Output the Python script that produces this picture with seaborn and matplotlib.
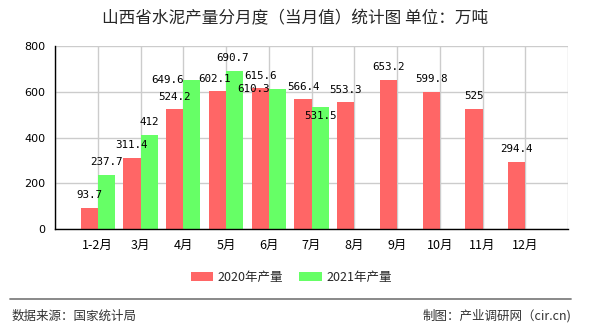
import matplotlib
matplotlib.use("Agg")
import matplotlib.pyplot as plt
from matplotlib.lines import Line2D
import pandas as pd
import seaborn as sns

# Monthly cement output of Shanxi province (10k tonnes)
months = ["1-2月", "3月", "4月", "5月", "6月", "7月", "8月", "9月", "10月", "11月", "12月"]
output_2020 = [93.7, 311.4, 524.2, 602.1, 615.6, 566.4, 553.3, 653.2, 599.8, 525, 294.4]
output_2021 = [237.7, 412, 649.6, 690.7, 610.3, 531.5]
series_names = ["2020年产量", "2021年产量"]
y_ticks = [0, 200, 400, 600, 800]

title = "山西省水泥产量分月度（当月值）统计图 单位：万吨"
source_text = "数据来源：国家统计局"
credit_text = "制图：产业调研网（cir.cn)"

sns.set_style("white")
plt.rcParams["font.family"] = ["Noto Sans CJK SC", "DejaVu Sans"]

rows = [(m, series_names[0], v) for m, v in zip(months, output_2020)]
rows += [(m, series_names[1], v) for m, v in zip(months, output_2021)]
df = pd.DataFrame(rows, columns=["month", "series", "value"])

W, H = 590, 330
fig = plt.figure(figsize=(W / 100, H / 100), dpi=100)
ax = fig.add_axes([55 / W, 1 - 229 / H, (568 - 55) / W, (229 - 46) / H])

palette = {series_names[0]: "#ff6666", series_names[1]: "#66ff66"}
sns.barplot(data=df, x="month", y="value", hue="series", order=months,
            hue_order=series_names, palette=palette, saturation=1,
            width=0.8, dodge=True, ax=ax, errorbar=None, linewidth=0,
            edgecolor="none")

handles, labels = ax.get_legend_handles_labels()
if ax.legend_ is not None:
    ax.legend_.remove()

ax.set_xlim(-1, 11)
ax.set_ylim(0, 800)
ax.set_xticks(range(-1, 12))
ax.set_xticklabels([""] + months + [""], fontsize=9)
ax.set_yticks(y_ticks)
ax.set_yticklabels([str(t) for t in y_ticks], fontsize=8, family="DejaVu Sans")
ax.set_xlabel("")
ax.set_ylabel("")
ax.set_axisbelow(True)
ax.grid(True, color="#cccccc", linewidth=1)
for side in ("top", "right"):
    ax.spines[side].set_visible(False)
for side in ("left", "bottom"):
    ax.spines[side].set_color("black")
    ax.spines[side].set_linewidth(1)
ax.tick_params(axis="both", direction="out", length=5, width=1, color="black",
               labelcolor="black", pad=2)

# Value labels; a few are shifted to keep neighbouring labels apart
nudges = {
    (1, 2): (-24, -12.5),
    (0, 3): (-3, 0),
    (1, 3): (-2, 0.5),
    (1, 4): (-24, -12.5),
    (1, 5): (0, -21.5),
}
for s_idx, container in enumerate(ax.containers[:2]):
    for bar in container:
        h = bar.get_height()
        if h != h:
            continue
        cx = bar.get_x() + bar.get_width() / 2
        cat = int(round(cx))
        dx, dy = nudges.get((s_idx, cat), (0, 0))
        ax.annotate(f"{h:g}", xy=(cx, h), xytext=(dx, 12.5 + dy),
                    textcoords="offset pixels", ha="center", va="center",
                    fontsize=7.8, family="DejaVu Sans Mono", color="black")

fig.text(0.5, 1 - 18.5 / H, title, ha="center", va="center", fontsize=12)

fig.legend(handles, labels, loc="center", bbox_to_anchor=(291 / W, 1 - 277.5 / H),
           ncol=2, frameon=False, fontsize=9, handlelength=1.8, handleheight=0.75,
           handletextpad=0.35, columnspacing=1.3)

fig.add_artist(Line2D([10 / W, 571 / W], [1 - 298.5 / H, 1 - 298.5 / H],
                      transform=fig.transFigure, color="#808080", linewidth=1.3))
fig.text(12 / W, 1 - 316 / H, source_text, ha="left", va="center", fontsize=9,
         color="#333333")
fig.text(571 / W, 1 - 316 / H, credit_text, ha="right", va="center", fontsize=9,
         color="#333333")

fig.savefig("out.png", dpi=100)
